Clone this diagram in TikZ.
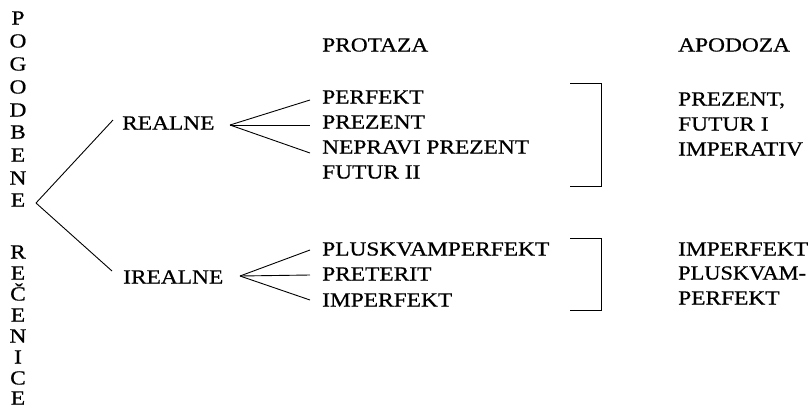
\documentclass[tikz,border=0pt]{standalone}
\usepackage{fontspec}
\setmainfont{Liberation Serif}[FakeBold=0.6]
\usetikzlibrary{calc}
\newcommand{\wtx}[1]{\scalebox{1.17}[1]{#1}}
\begin{document}
\begin{tikzpicture}[x=1pt,y=-1pt,
  lbl/.style={anchor=west, inner xsep=0pt, inner ysep=0pt, text height=13pt, text depth=0pt, font=\fontsize{20}{24}\selectfont},
  item/.style={lbl, inner xsep=12pt},
  vlet/.style={anchor=center, inner sep=0pt, text height=13pt, text depth=0pt, font=\fontsize{20}{24}\selectfont},
  ln/.style={line width=0.9pt}]
\useasboundingbox (0,0) rectangle (812,408);
% vertical title
\foreach \l/\y [count=\i] in {P/18,O/41,G/64,O/87,D/110,B/132,E/155,N/178,E/200}
  \node[vlet] (t\i) at (18,\y) {\wtx{\l}};
\foreach \l/\y [count=\i] in {R/252,E/273,Č/294,E/315,N/336,I/357,C/378,E/398}
  \node[vlet] (b\i) at (18,\y) {\wtx{\l}};
% headings
\node[lbl] (prot) at (322,45) {\wtx{PROTAZA}};
\node[lbl] (apod) at (678,45) {\wtx{APODOZA}};
% branches
\coordinate (v) at (36,203);
\node[lbl] (real) at (122,123) {\wtx{REALNE}};
\node[lbl] (ireal) at (123,277) {\wtx{IREALNE}};
\draw[ln] (v) -- ($(real.west)+(-9,-3)$);
\draw[ln] (v) -- ($(ireal.west)+(-11,-6)$);
% realne items
\coordinate (rv) at (230,125);
\node[item] (perf) at (310,97) {\wtx{PERFEKT}};
\node[item] (prez) at (310,122) {\wtx{PREZENT}};
\node[item] (nepr) at (310,147) {\wtx{NEPRAVI PREZENT}};
\node[item] (fut2) at (310,172) {\wtx{FUTUR II}};
\draw[ln] (rv) -- ($(perf.west)+(0,3)$);
\draw[ln] (rv) -- ($(prez.west)+(0,3)$);
\draw[ln] (rv) -- ($(nepr.west)+(0,6)$);
% irealne items
\coordinate (iv) at (240,276);
\node[item] (plus) at (310,249) {\wtx{PLUSKVAMPERFEKT}};
\node[item] (pret) at (310,274) {\wtx{PRETERIT}};
\node[item] (impf) at (310,300) {\wtx{IMPERFEKT}};
\draw[ln] (iv) -- ($(plus.west)+(0,1)$);
\draw[ln] (iv) -- ($(pret.west)+(0,1)$);
\draw[ln] (iv) -- ($(impf.west)+(0,0)$);
% brackets
\draw[ln] (570,83) -- (601,83) -- (601,186) -- (570,186);
\draw[ln] (570,238) -- (601,238) -- (601,310) -- (570,310);
% apodoza
\node[lbl] (a1) at (678,99) {\wtx{PREZENT,}};
\node[lbl] (a2) at (678,124) {\wtx{FUTUR I}};
\node[lbl] (a3) at (678,149) {\wtx{IMPERATIV}};
\node[lbl] (a4) at (678,249) {\wtx{IMPERFEKT}};
\node[lbl] (a5) at (678,273) {\scalebox{1.12}[1]{PLUSKVAM-}};
\node[lbl] (a6) at (678,298) {\wtx{PERFEKT}};
\end{tikzpicture}
\end{document}
